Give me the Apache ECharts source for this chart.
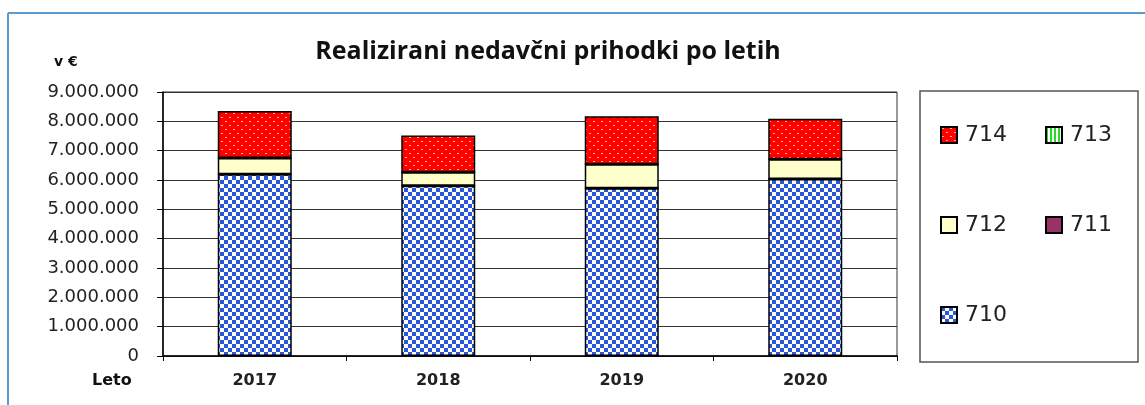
<!DOCTYPE html>
<html>
<head>
<meta charset="utf-8">
<script src="https://cdn.jsdelivr.net/npm/echarts@6/dist/echarts.min.js"></script>
<style>
  html, body { margin: 0; padding: 0; background: #fff; }
  #main { width: 1145px; height: 405px; }
</style>
</head>
<body>
<div id="main"></div>
<script>
// podatki (v €)
var years = ['2017', '2018', '2019', '2020']
var s710 = [6200000, 5800000, 5720000, 6030000]
var s711 = [0, 0, 0, 0]
var s712 = [550000, 460000, 820000, 680000]
var s713 = [0, 0, 0, 0]
var s714 = [1600000, 1260000, 1630000, 1380000]
var yTicks = [0, 9000000, 1000000] // min, max, interval

// vzorci za polnila
function makeCanvas (w, h, draw) {
  var c = document.createElement('canvas')
  c.width = w
  c.height = h
  draw(c.getContext('2d'))
  return c
}
var checker = makeCanvas(8, 8, function (ctx) {
  ctx.fillStyle = '#ffffff'
  ctx.fillRect(0, 0, 8, 8)
  ctx.fillStyle = '#2a56da'
  ctx.fillRect(0, 0, 4, 4)
  ctx.fillRect(4, 4, 4, 4)
})
var dotted = makeCanvas(8, 8, function (ctx) {
  ctx.fillStyle = '#ff0000'
  ctx.fillRect(0, 0, 8, 8)
  ctx.fillStyle = '#ffc060'
  ctx.fillRect(1, 1, 2, 1)
  ctx.fillRect(5, 5, 2, 1)
})
var stripes = makeCanvas(4, 4, function (ctx) {
  ctx.fillStyle = '#ffffff'
  ctx.fillRect(0, 0, 4, 4)
  ctx.fillStyle = '#22dd22'
  ctx.fillRect(0, 0, 2, 4)
})

var fmt = function (v) {
  return String(v).replace(/\B(?=(\d{3})+(?!\d))/g, '.')
}

function bar (name, data, color) {
  return {
    name: name,
    type: 'bar',
    stack: 'total',
    barWidth: 74,
    data: data,
    itemStyle: { color: color, borderColor: '#000', borderWidth: 1.5 }
  }
}

function legendRow (names, top) {
  return {
    data: names,
    left: 940,
    top: top,
    orient: 'horizontal',
    padding: 0,
    icon: 'rect',
    itemWidth: 16,
    itemHeight: 16,
    itemGap: 38,
    selectedMode: false,
    textStyle: { fontFamily: 'DejaVu Sans', fontSize: 22, color: '#222', padding: [0, 0, 0, 3] }
  }
}

var chart = echarts.init(document.getElementById('main'))
chart.setOption({
  backgroundColor: '#fff',
  animation: false,
  grid: { left: 163, right: 248, top: 92, bottom: 49, show: true, borderColor: '#333', borderWidth: 1 },
  legend: [
    legendRow(['714', '713'], 124),
    legendRow(['712', '711'], 214),
    legendRow(['710'], 304)
  ],
  xAxis: {
    type: 'category',
    data: years,
    axisLine: { lineStyle: { color: '#000', width: 1.5 } },
    axisTick: { show: true, length: 5, lineStyle: { color: '#000' } },
    axisLabel: { fontFamily: 'DejaVu Sans', fontWeight: 'bold', fontSize: 16, color: '#222', margin: 17 }
  },
  yAxis: {
    type: 'value',
    min: yTicks[0],
    max: yTicks[1],
    interval: yTicks[2],
    axisLine: { show: true, lineStyle: { color: '#000', width: 1.5 } },
    axisTick: { show: true, length: 6, lineStyle: { color: '#000' } },
    axisLabel: { formatter: fmt, fontFamily: 'DejaVu Sans', fontSize: 18, color: '#222', margin: 24 },
    splitLine: { lineStyle: { color: '#333', width: 1 } }
  },
  series: [
    bar('710', s710, { image: checker, repeat: 'repeat' }),
    bar('711', s711, '#993366'),
    bar('712', s712, '#ffffcc'),
    bar('713', s713, { image: stripes, repeat: 'repeat' }),
    bar('714', s714, { image: dotted, repeat: 'repeat' })
  ],
  graphic: [
    { type: 'line', shape: { x1: 8, y1: 13, x2: 1145, y2: 13 }, style: { stroke: '#5b9bd5', lineWidth: 2 } },
    { type: 'line', shape: { x1: 8, y1: 13, x2: 8, y2: 405 }, style: { stroke: '#5b9bd5', lineWidth: 2 } },
    { type: 'rect', shape: { x: 920, y: 91, width: 218, height: 271 }, style: { fill: null, stroke: '#555', lineWidth: 1.5 } },
    {
      type: 'text', x: 548, y: 52,
      style: { text: 'Realizirani nedavčni prihodki po letih', font: 'bold 25px "Open Sans"', fill: '#111', align: 'center', verticalAlign: 'middle' }
    },
    { type: 'text', x: 54, y: 62, style: { text: 'v €', font: 'bold 14px "DejaVu Sans"', fill: '#111', verticalAlign: 'middle' } },
    { type: 'text', x: 92, y: 381, style: { text: 'Leto', font: 'bold 16px "DejaVu Sans"', fill: '#111', verticalAlign: 'middle' } }
  ]
})
</script>
</body>
</html>
